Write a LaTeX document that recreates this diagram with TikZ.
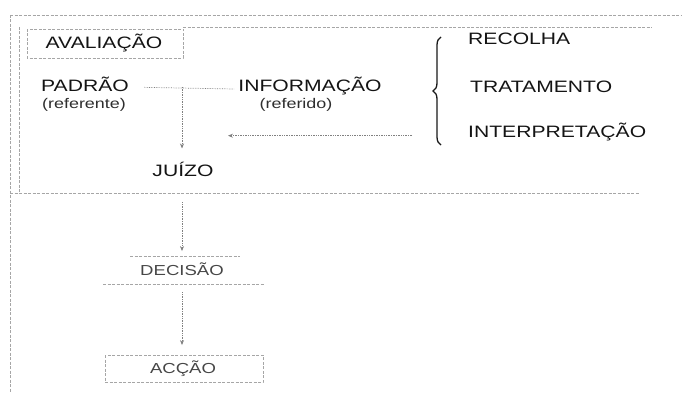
\documentclass[tikz,border=0pt]{standalone}
\usepackage{fontspec}
\setmainfont{Liberation Sans}[FakeStretch=1.28]
\usetikzlibrary{arrows.meta,decorations.pathreplacing}
\begin{document}
\begin{tikzpicture}[x=1pt,y=-1pt,
  big/.style={font=\fontsize{16.5}{18}\selectfont, text=black!92, inner sep=0pt, anchor=base},
  small/.style={font=\fontsize{14}{16}\selectfont, text=black!82, inner sep=0pt, anchor=base},
  light/.style={font=\fontsize{14.5}{16}\selectfont, text=black!72, inner sep=0pt, anchor=base},
  frame/.style={draw=black!35, line width=0.5pt, dash pattern=on 3pt off 1.5pt},
  conn/.style={draw=black!50, line width=0.7pt, densely dotted},
  arr/.style={conn, -{Stealth[length=5pt,width=4pt]}},
  bracestyle/.style={draw=black!90, line width=1.3pt, decorate, decoration={brace, amplitude=8pt}}]
\useasboundingbox (0,0) rectangle (682,393);
% frames
\draw[frame] (10,15) -- (682,15);
\draw[frame] (10,15) -- (10,393);
\draw[frame] (19,27) -- (19,193);
\draw[frame] (183,27) -- (652,27);
\draw[frame] (10,193) -- (640,193);
\draw[frame] (27,29) rectangle (183,58);
\draw[frame] (130,256) -- (240,256);
\draw[frame] (103,284) -- (265,284);
\draw[frame] (105,355) rectangle (263,382);
% texts
\node[big] (avl) at (104,49) {AVALIAÇÃO};
\node[big] (padrao) at (85,92) {PADRÃO};
\node[small] (ref1) at (84,109) {(referente)};
\node[big] (info) at (310,92) {INFORMAÇÃO};
\node[small] (ref2) at (296,109) {(referido)};
\node[big] (juizo) at (183,176) {JUÍZO};
\node[big, anchor=base west] (recolha) at (468,45) {RECOLHA};
\node[big, anchor=base west] (trat) at (470,93) {TRATAMENTO};
\node[big, anchor=base west] (interp) at (468,138) {INTERPRETAÇÃO};
\node[light] (decisao) at (182,275) {DECISÃO};
\node[light] (accao) at (183,373) {ACÇÃO};
% brace
\coordinate (bb) at (441,145);
\coordinate (bt) at (441,37);
\draw[bracestyle] (bb) -- (bt);
% connectors
\coordinate (tj) at (182,87);
\draw[conn] ([xshift=15pt,yshift=-2.5pt]padrao.east) -- ([xshift=-4pt,yshift=-2.5pt]info.west);
\draw[arr] (tj) -- ([xshift=-1pt,shift={(0,-13)}]juizo.north);
\draw[arr] ([shift={(102,40)}]info.south) -- ([shift={(-82,40)}]info.south);
\draw[arr, shorten <=26pt, shorten >=11pt] ([xshift=-1pt]juizo.south) -- (decisao.north);
\draw[arr, shorten <=17pt, shorten >=15pt] (decisao.south) -- ([xshift=-1pt]accao.north);
\end{tikzpicture}
\end{document}
